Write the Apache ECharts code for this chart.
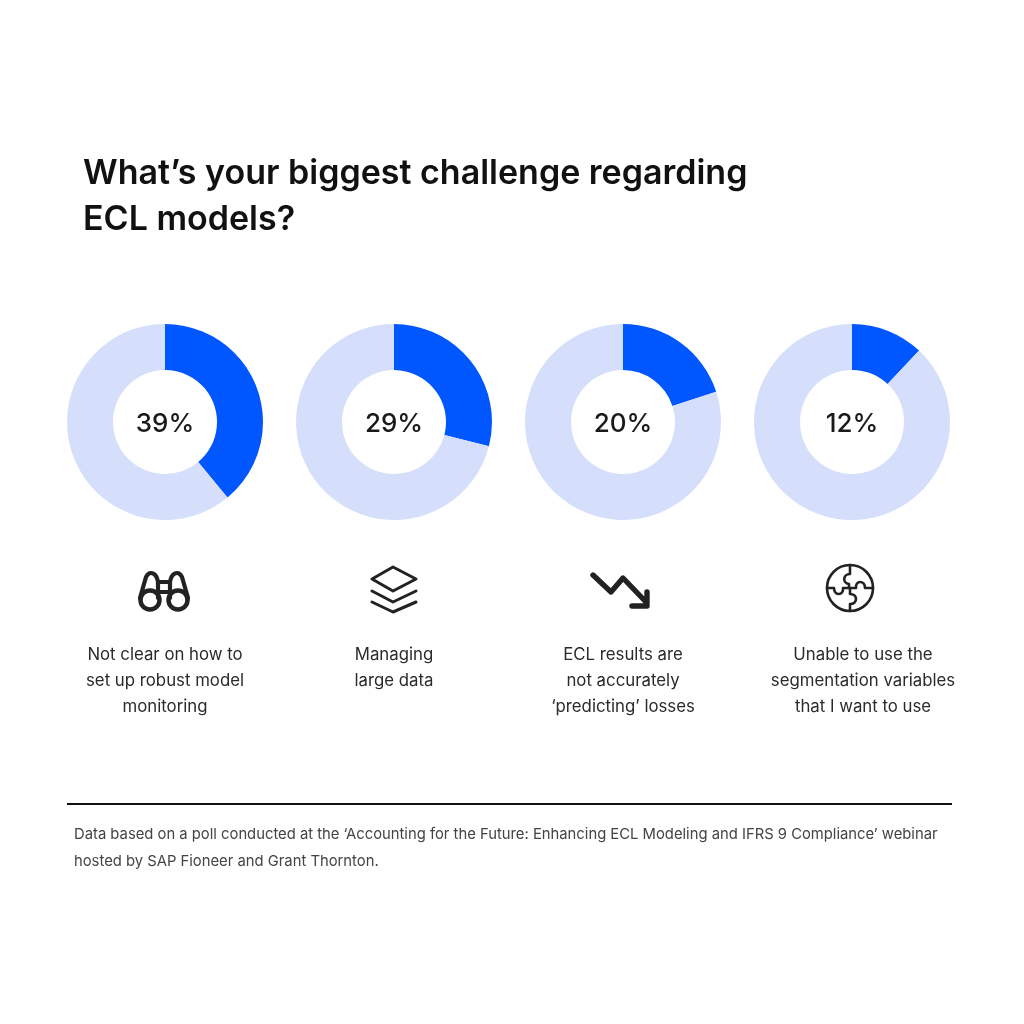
<!DOCTYPE html>
<html>
<head>
<meta charset="utf-8">
<title>ECL models poll</title>
<style>
  html, body { margin: 0; padding: 0; background: #fff; }
  #chart { width: 1024px; height: 1024px; }
</style>
<script src="https://cdn.jsdelivr.net/npm/echarts@6/dist/echarts.min.js"></script>
</head>
<body>
<div id="chart"></div>
<script>
const titleText = "What\u2019s your biggest challenge regarding\nECL models?";
const shares = [39, 29, 20, 12];
const captions = [
  "Not clear on how to\nset up robust model\nmonitoring",
  "Managing\nlarge data",
  "ECL results are\nnot accurately\n\u2018predicting\u2019 losses",
  "Unable to use the\nsegmentation variables\nthat I want to use",
];
const footnote = "Data based on a poll conducted at the \u2018Accounting for the Future: Enhancing ECL Modeling and IFRS 9 Compliance\u2019 webinar\nhosted by SAP Fioneer and Grant Thornton.";

const FONT = "Inter, Roboto, sans-serif";
const BLUE = "#0057ff";
const PALE = "#d5dffb";
const INK = "#1a1a1a";
const pieCenters = [165, 394, 623, 852];
const captionCenters = [165, 394, 623, 863];

const series = shares.map((share, i) => ({
  type: "pie",
  center: [pieCenters[i], 422],
  radius: [52, 98],
  startAngle: 90,
  clockwise: true,
  silent: true,
  animation: false,
  labelLine: { show: false },
  data: [
    {
      value: share,
      itemStyle: { color: BLUE },
      label: {
        show: true,
        position: "center",
        formatter: "{c}%",
        fontFamily: FONT,
        fontSize: 26,
        fontWeight: 500,
        color: INK,
        offset: [0, 2],
      },
    },
    { value: 100 - share, itemStyle: { color: PALE }, label: { show: false } },
  ],
}));

const iconStroke = (lineWidth) => ({
  fill: null,
  stroke: "#222",
  lineWidth,
  lineCap: "round",
  lineJoin: "round",
});

// Icon outlines, one path per icon, in page pixels
const icons = [
  // binoculars
  "M140 598 L146 577 Q149 571 154 574 Q157 576 158 582 L158 598 M170 598 L170 582 Q171 576 174 574 Q179 571 182 577 L188 598 M158 582 H170 M158 592 H170",
  // layers
  "M372 579 L393 567 L416 579 L393 591 Z M372 591 L393 602 L416 591 M372 602 L393 612 L416 602",
  // falling arrow
  "M593 575 L611 592 L623 578 L646 602 M647 592 V606 H632",
  // puzzle
  "M850 565 V574 C843 574 842 583 849 584 V588 M850 588 H856 C855 580 865 580 865 588 H873 M827 588 H834 C834 596 844 596 843 588 H850 M850 588 V594 C858 594 858 604 850 604 V611",
];
const iconWidths = [4.2, 3, 5.4, 2.6];

const chart = echarts.init(document.getElementById("chart"), null, { renderer: "canvas" });

chart.setOption({
  backgroundColor: "#fff",
  animation: false,
  title: {
    text: titleText,
    left: 78,
    top: 146,
    textStyle: { fontFamily: FONT, fontSize: 34, fontWeight: 600, color: "#111", lineHeight: 46 },
  },
  series,
  graphic: [
    { type: "circle", shape: { cx: 150, cy: 600, r: 9.5 }, style: iconStroke(4.5), silent: true },
    { type: "circle", shape: { cx: 178, cy: 600, r: 9.5 }, style: iconStroke(4.5), silent: true },
    { type: "circle", shape: { cx: 850, cy: 588, r: 23 }, style: iconStroke(2.6), silent: true },
    ...captions.map((text, i) => ({
      type: "text",
      silent: true,
      style: {
        x: captionCenters[i],
        y: 642,
        text,
        align: "center",
        fontFamily: FONT,
        fontSize: 16.8,
        lineHeight: 26,
        fill: "#2a2a2a",
      },
    })),
    { type: "rect", silent: true, shape: { x: 67, y: 803, width: 885, height: 2 }, style: { fill: "#111" } },
    {
      type: "text",
      silent: true,
      style: {
        x: 74,
        y: 821,
        text: footnote,
        fontFamily: FONT,
        fontSize: 14.8,
        lineHeight: 27,
        fill: "#444",
      },
    },
  ],
});

icons.forEach((d, i) => {
  chart.getZr().add(echarts.graphic.makePath(d, { style: iconStroke(iconWidths[i]), silent: true }));
});
</script>
</body>
</html>
